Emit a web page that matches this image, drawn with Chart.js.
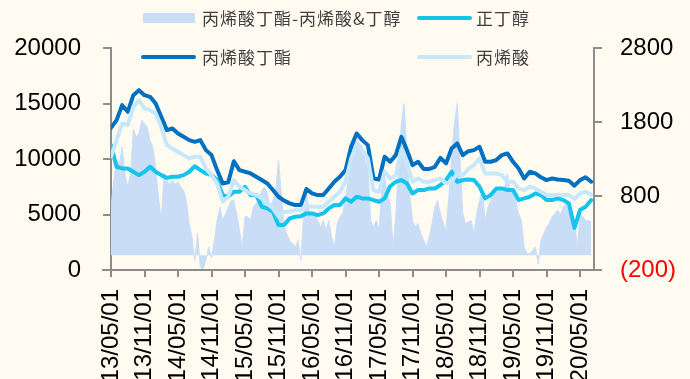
<!DOCTYPE html>
<html>
<head>
<meta charset="utf-8">
<script src="https://cdn.jsdelivr.net/npm/chart.js@4"></script>
<style>
  html, body { margin: 0; padding: 0; background: #FFFBF0; }
  #wrap { position: relative; width: 690px; height: 379px; overflow: hidden; }
  #c { position: absolute; left: 0; top: 0; }
  .lg { position: absolute; font: 17px "Noto Sans CJK SC", sans-serif; color: #404040;
        letter-spacing: 1px; line-height: 20px; white-space: nowrap; }
  .sw { position: absolute; }
</style>
</head>
<body>
<div id="wrap">
  <canvas id="c" width="690" height="379"></canvas>
  <div id="legend"></div>
</div>
<script>
// x runs in months from 2013/05/01
const tickMonthsX = [0, 6, 12, 18, 24, 30, 36, 42, 48, 54, 60, 66, 72, 78, 84];
const tickLabelsX = ['13/05/01', '13/11/01', '14/05/01', '14/11/01', '15/05/01', '15/11/01', '16/05/01',
  '16/11/01', '17/05/01', '17/11/01', '18/05/01', '18/11/01', '19/05/01', '19/11/01', '20/05/01'];
const leftTicks = [0, 5000, 10000, 15000, 20000];
const rightTicks = [-200, 800, 1800, 2800];

// monthly prices, yuan/t
const butylAcrylate = [
  12800, 13500, 14850, 14250, 15750, 16200, 15750, 15600, 15000, 13800,
  12600, 12750, 12300, 12000, 11700, 11550, 11700, 10800, 10350, 9000,
  7800, 7900, 9800, 9000, 8850, 8700, 8400, 8100, 7800, 7200,
  6600, 6250, 6000, 5850, 5850, 7300, 6900, 6750, 6750, 7350,
  7950, 8400, 9000, 11100, 12300, 11700, 11250, 8250, 8150, 10200,
  9750, 10350, 12000, 10800, 9450, 9750, 9100, 9100, 9300, 10100,
  9600, 10950, 11400, 10350, 10700, 10800, 11100, 9750, 9750, 9900,
  10350, 10500, 9750, 9150, 8250, 8850, 8700, 8350, 8100, 8250,
  8150, 8100, 8050, 7600, 8100, 8350, 7950];
const acrylicAcid = [
  10200, 11700, 13200, 13050, 14700, 15300, 14550, 14400, 14100, 12900,
  11250, 10950, 10650, 10350, 10050, 10200, 10200, 9150, 8550, 7800,
  6150, 6600, 8100, 7500, 7200, 6900, 6750, 6450, 6000, 5550,
  4800, 5250, 5250, 5400, 5400, 5850, 5700, 5700, 5700, 6150,
  6600, 7050, 7950, 10050, 11250, 10800, 10050, 7200, 7050, 8850,
  8250, 8550, 10800, 9600, 7950, 8250, 7950, 7950, 8100, 8250,
  7800, 7950, 8700, 8550, 9100, 9450, 10050, 8700, 8700, 8700,
  8550, 7950, 7950, 7350, 7200, 7500, 7350, 7050, 6750, 6750,
  6750, 6750, 6750, 6400, 6900, 7050, 6750];
const nButanol = [
  11250, 9300, 9150, 9150, 8850, 8550, 8850, 9300, 8850, 8550,
  8300, 8400, 8400, 8550, 8850, 9350, 9000, 8700, 8550, 8100,
  6750, 6600, 7050, 7050, 7500, 6750, 6750, 5700, 5550, 5250,
  4050, 4050, 4650, 4800, 4850, 5100, 5100, 4950, 5100, 5550,
  5850, 5850, 6450, 6150, 6600, 6450, 6450, 6300, 6150, 6450,
  7550, 7950, 8100, 7800, 6900, 7200, 7200, 7350, 7350, 7650,
  8100, 8850, 7950, 8100, 8150, 8100, 7500, 6450, 6750, 7350,
  7350, 7200, 7200, 6300, 6450, 6600, 6900, 6750, 6300, 6300,
  6450, 6300, 6000, 3800, 5400, 5700, 6300];
// half-monthly spread, right axis
const spread = [
  650, 1010, 1280, 1240, 1460, 1100, 920, 1100, 1700, 1600,
  1640, 1820, 1780, 1730, 1550, 1460, 1190, 790, 470, 1100,
  1010, 960, 1010, 960, 990, 920, 880, 740, 430, 250,
  -70, 300, -160, -190, -70, 110, -40, 190, 470, 650,
  470, 560, 650, 740, 740, 560, 340, 110, 520, 520,
  470, 650, 700, 740, 880, 920, 830, 650, 740, 880,
  1280, 830, 380, 290, 200, 160, 110, 200, -70, 560,
  830, 600, 560, 560, 470, 380, 470, 340, 470, 250,
  110, 430, 520, 560, 790, 1010, 1400, 1510, 1550, 1510,
  1460, 1280, 1190, 470, 380, 470, 340, 880, 1060, 830,
  700, 110, 520, 1240, 1780, 2050, 1370, 830, 470, 380,
  430, 290, 200, 110, 250, 430, 650, 740, 560, 430,
  340, 790, 1330, 1780, 2050, 1330, 560, 430, 450, 470,
  290, 560, 740, 880, 470, 650, 740, 830, 880, 880,
  880, 920, 1100, 880, 830, 740, 560, 470, 110, 20,
  20, 60, 110, -120, 200, 290, 380, 430, 520, 560,
  610, 560, 650, 700, 650, 560, 470, 110, 560, 520,
  470, 470, 450];

const toPoints = (arr, step) => arr.map((v, i) => ({ x: i * step, y: v }));

const series = [
  { label: '丙烯酸丁酯-丙烯酸&丁醇', data: toPoints(spread, 0.5), color: '#C9DEF6', area: true, axis: 'y1', order: 4 },
  { label: '正丁醇', data: toPoints(nButanol, 1), color: '#14C4EA', axis: 'y', order: 3 },
  { label: '丙烯酸丁酯', data: toPoints(butylAcrylate, 1), color: '#0070C0', axis: 'y', order: 2 },
  { label: '丙烯酸', data: toPoints(acrylicAcid, 1), color: '#C6E8FA', axis: 'y', order: 1 }
];

const axisGray = '#8C8C8C';
const tickFont = { family: 'Liberation Sans, Arial, sans-serif', size: 24 };

// the category axis line runs a little past both value axes
const axisOverhang = {
  id: 'axisOverhang',
  afterDraw(chart) {
    const { ctx, chartArea } = chart;
    ctx.save();
    ctx.strokeStyle = axisGray;
    ctx.lineWidth = 2;
    ctx.beginPath();
    ctx.moveTo(chartArea.left - 9, chartArea.bottom);
    ctx.lineTo(chartArea.right + 8, chartArea.bottom);
    ctx.stroke();
    ctx.restore();
  }
};

new Chart(document.getElementById('c'), {
  type: 'line',
  data: {
    datasets: series.map(s => ({
      label: s.label,
      data: s.data,
      yAxisID: s.axis,
      order: s.order,
      borderColor: s.color,
      backgroundColor: s.color,
      borderWidth: s.area ? 1 : 4,
      fill: s.area ? 'origin' : false,
      pointRadius: 0,
      tension: 0,
      borderJoinStyle: 'round',
      borderCapStyle: 'round'
    }))
  },
  plugins: [axisOverhang],
  options: {
    responsive: false,
    animation: false,
    devicePixelRatio: 1,
    layout: { padding: { top: 48, left: 0, right: 0, bottom: 0 } },
    plugins: { legend: { display: false }, tooltip: { enabled: false } },
    scales: {
      x: {
        type: 'linear', min: 0, max: 86.5,
        afterBuildTicks: s => { s.ticks = tickMonthsX.map(v => ({ value: v })); },
        afterFit: s => { s.height = 109; },
        ticks: {
          autoSkip: false, minRotation: 90, maxRotation: 90, padding: 12,
          font: tickFont, color: '#000',
          callback: (v, i) => tickLabelsX[i]
        },
        grid: { drawOnChartArea: false, tickLength: 7, color: axisGray, lineWidth: 2 },
        border: { color: axisGray, width: 2 }
      },
      y: {
        position: 'left', min: 0, max: 20000,
        afterBuildTicks: s => { s.ticks = leftTicks.map(v => ({ value: v })); },
        afterFit: s => { s.width = 111; },
        ticks: { padding: 22, font: tickFont, color: '#000', callback: v => String(v) },
        grid: { drawOnChartArea: false, tickLength: 8, color: axisGray, lineWidth: 2 },
        border: { color: axisGray, width: 2 }
      },
      y1: {
        position: 'right', min: -200, max: 2800,
        afterBuildTicks: s => { s.ticks = rightTicks.map(v => ({ value: v })); },
        afterFit: s => { s.width = 96; },
        ticks: {
          padding: 18, font: tickFont,
          color: c => (c.tick && c.tick.value < 0 ? '#FF0000' : '#000'),
          callback: v => (v < 0 ? '(' + (-v) + ')' : String(v))
        },
        grid: { drawOnChartArea: false, tickLength: 8, color: axisGray, lineWidth: 2 },
        border: { color: axisGray, width: 2 }
      }
    }
  }
});

// legend laid out as in the original 2 x 2 grid
const legendSpots = [
  { left: 143, top: 18 }, { left: 417, top: 18 },
  { left: 141, top: 57 }, { left: 417, top: 57 }
];
const legend = document.getElementById('legend');
series.forEach((s, i) => {
  const p = legendSpots[i];
  const sw = document.createElement('div');
  sw.className = 'sw';
  sw.style.background = s.color;
  if (s.area) {
    Object.assign(sw.style, { left: p.left + 'px', top: (p.top - 5) + 'px', width: '52px', height: '10px' });
  } else {
    Object.assign(sw.style, { left: p.left + 'px', top: (p.top - 2) + 'px', width: '55px', height: '4px', borderRadius: '2px' });
  }
  legend.appendChild(sw);
  const tx = document.createElement('div');
  tx.className = 'lg';
  tx.textContent = s.label;
  tx.style.left = (p.left + 59 + (i === 2 ? 2 : 0)) + 'px';
  tx.style.top = (p.top - 10) + 'px';
  legend.appendChild(tx);
});
</script>
</body>
</html>
